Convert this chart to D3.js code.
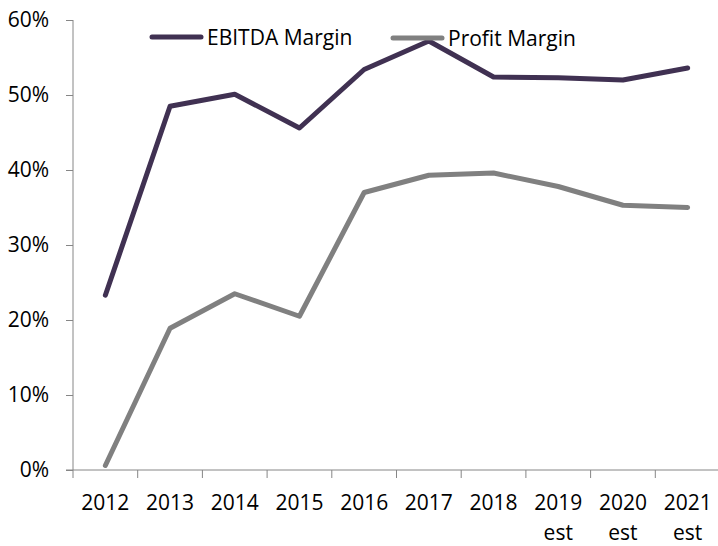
<!DOCTYPE html>
<html>
<head>
<meta charset="utf-8">
<script src="https://cdn.jsdelivr.net/npm/d3@7"></script>
<style>
  body { margin: 0; background: #fff; }
  svg { display: block; font-family: "Open Sans", sans-serif; }
</style>
</head>
<body>
<svg id="chart" width="718" height="546"></svg>
<script>
// chart data
const years = ['2012', '2013', '2014', '2015', '2016', '2017', '2018', '2019 est', '2020 est', '2021 est'];
const ebitdaMargin = [23.3, 48.5, 50.1, 45.6, 53.4, 57.2, 52.4, 52.3, 52.0, 53.6];
const profitMargin = [0.6, 18.9, 23.5, 20.5, 37.0, 39.3, 39.6, 37.8, 35.3, 35.0];
const yTicks = [0, 10, 20, 30, 40, 50, 60];

const series = [
  { name: 'EBITDA Margin', values: ebitdaMargin, color: '#403152' },
  { name: 'Profit Margin', values: profitMargin, color: '#808080' }
];

const svg = d3.select('#chart');
const axisColor = '#868686';
const fontSize = 21;

const x = d3.scaleBand().domain(years).range([73, 720]).padding(0);
const y = d3.scaleLinear().domain([0, 60]).range([470, 20]);

// y axis
const yAxis = svg.append('g')
  .attr('transform', 'translate(73,0)')
  .call(d3.axisLeft(y).tickValues(yTicks).tickSize(7).tickPadding(17).tickFormat(d => d + '%'));
yAxis.select('.domain').attr('stroke', axisColor).attr('d', 'M0,20V470');
yAxis.selectAll('.tick line').attr('stroke', axisColor);
yAxis.selectAll('.tick text')
  .attr('fill', '#000')
  .style('font-size', fontSize + 'px')
  .style('font-family', '"Open Sans", sans-serif');

// x axis: line, ticks on band boundaries, labels centred
const xg = svg.append('g');
xg.append('line')
  .attr('x1', 66).attr('x2', 720)
  .attr('y1', y(0)).attr('y2', y(0))
  .attr('stroke', axisColor);
const bounds = years.map(d => x(d)).concat([x.range()[1]]);
xg.selectAll('.xtick')
  .data(bounds)
  .enter()
  .append('line')
  .attr('class', 'xtick')
  .attr('x1', d => d).attr('x2', d => d)
  .attr('y1', y(0)).attr('y2', y(0) + 8)
  .attr('stroke', axisColor);
const labels = xg.selectAll('.xlabel')
  .data(years)
  .enter()
  .append('text')
  .attr('class', 'xlabel')
  .attr('text-anchor', 'middle')
  .attr('font-size', fontSize)
  .attr('fill', '#000');
labels.each(function(d) {
  const parts = d.split(' ');
  const t = d3.select(this);
  parts.forEach((p, i) => {
    t.append('tspan')
      .attr('x', x(d) + x.bandwidth() / 2)
      .attr('y', 510 + i * 30)
      .text(p);
  });
});

// lines
const line = d3.line()
  .x((d, i) => x(years[i]) + x.bandwidth() / 2)
  .y(d => y(d));

svg.selectAll('.series')
  .data(series)
  .enter()
  .append('path')
  .attr('class', 'series')
  .attr('fill', 'none')
  .attr('stroke', d => d.color)
  .attr('stroke-width', 5)
  .attr('stroke-linecap', 'round')
  .attr('stroke-linejoin', 'round')
  .attr('d', d => line(d.values));

// legend
const legendPos = [{ x: 152, y: 37 }, { x: 393, y: 38 }];
const legend = svg.selectAll('.legend')
  .data(series)
  .enter()
  .append('g')
  .attr('class', 'legend')
  .attr('transform', (d, i) => `translate(${legendPos[i].x},${legendPos[i].y})`);
legend.append('line')
  .attr('x1', 0).attr('x2', 49)
  .attr('stroke', d => d.color)
  .attr('stroke-width', 5)
  .attr('stroke-linecap', 'round');
legend.append('text')
  .attr('x', 55)
  .attr('dy', '0.36em')
  .attr('font-size', fontSize)
  .attr('fill', '#000')
  .text(d => d.name);
</script>
</body>
</html>
